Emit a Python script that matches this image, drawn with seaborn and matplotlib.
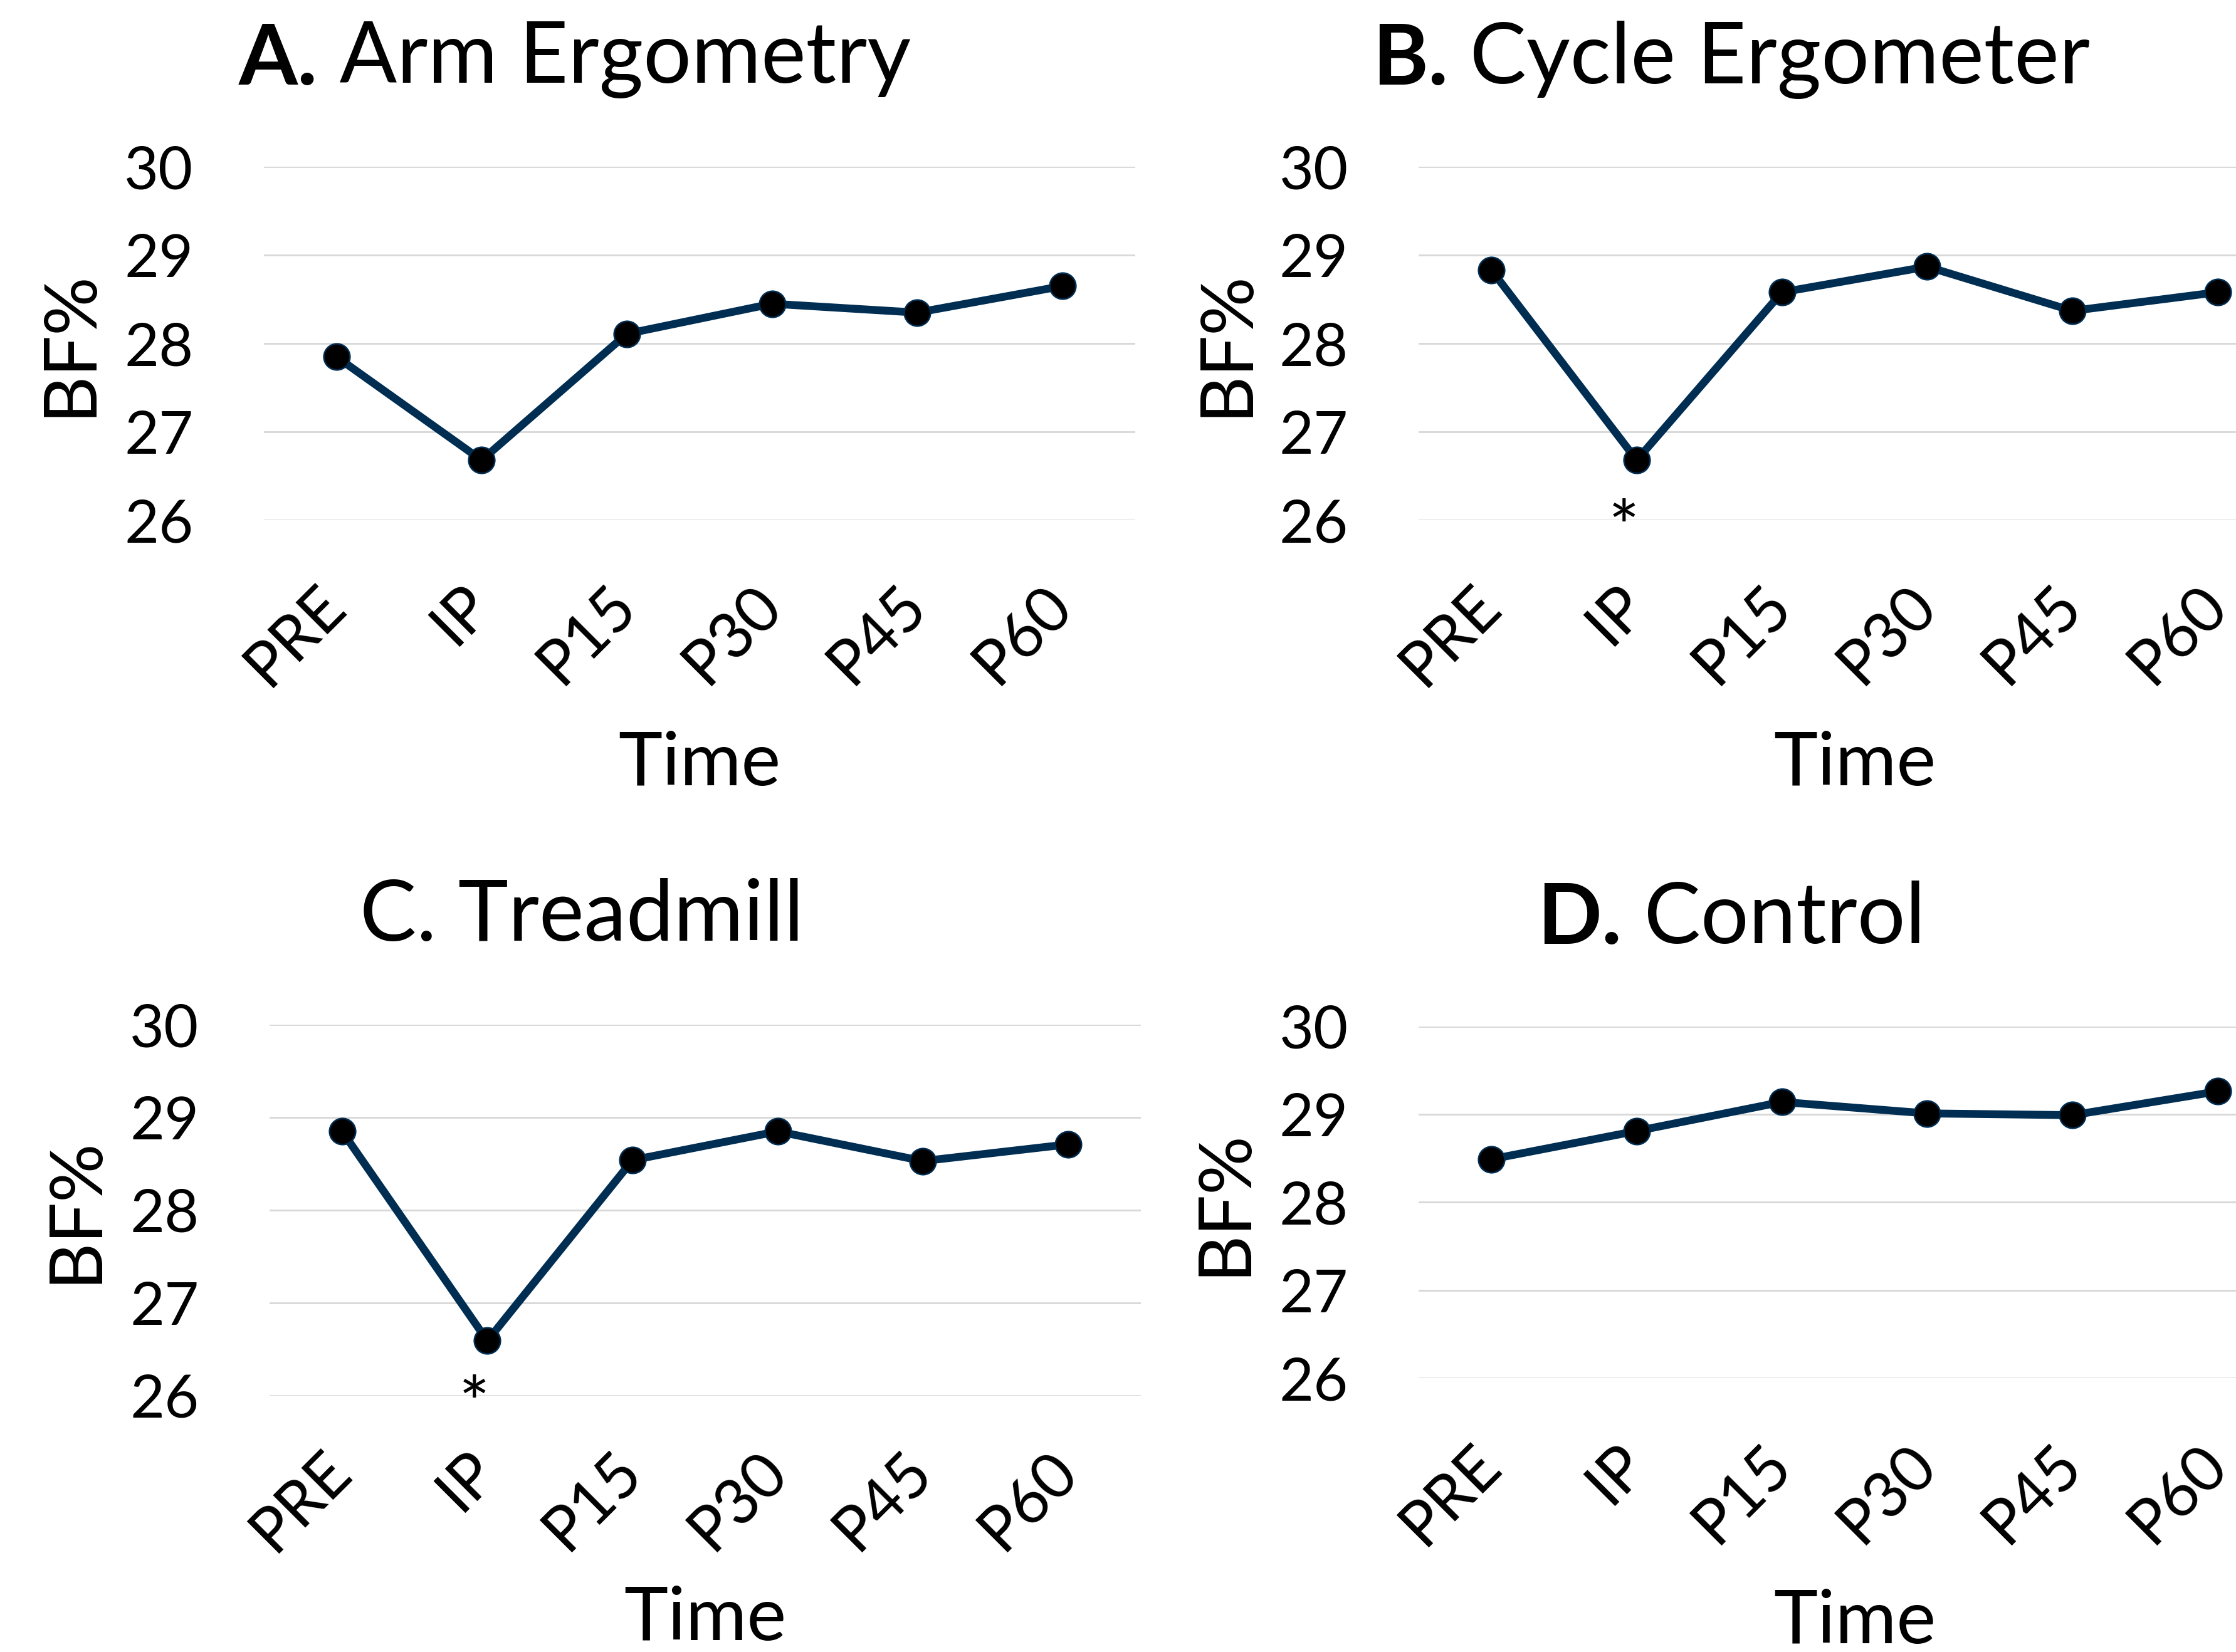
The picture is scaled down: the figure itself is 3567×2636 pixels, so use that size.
import pandas as pd
import matplotlib
matplotlib.use("Agg")
import matplotlib.pyplot as plt
import matplotlib.transforms as mtransforms
import seaborn as sns

# data
time_points = ["PRE", "IP", "P15", "P30", "P45", "P60"]
arm_ergometry = [27.85, 26.68, 28.11, 28.45, 28.35, 28.65]
cycle_ergometer = [28.83, 26.68, 28.58, 28.87, 28.37, 28.58]
treadmill = [28.85, 26.59, 28.54, 28.85, 28.53, 28.71]
control = [28.49, 28.81, 29.14, 29.01, 28.99, 29.26]
y_ticks = [26, 27, 28, 29, 30]

NAVY = "#002D52"
W, H = 3567, 2636
SW, SH = 1568, 1159  # coordinates measured on the shrunk reference

sns.set_theme(style="white")
plt.rcParams["font.family"] = ["Lato", "DejaVu Sans"]
plt.rcParams["text.color"] = "black"
plt.rcParams["xtick.color"] = "black"
plt.rcParams["ytick.color"] = "black"

fig = plt.figure(figsize=(W / 300, H / 300), dpi=300)


def fx(x):
    return x / SW


def fy(y):
    return 1 - y / SH


def title(cx, cy, bold, rest):
    # bold prefix followed by regular text, centred on cx as a whole
    r = fig.canvas.get_renderer()
    t1 = fig.text(0, fy(cy), bold, fontsize=32.5, fontweight="bold", va="center")
    t2 = fig.text(0, fy(cy), (" " if bold else "") + rest, fontsize=32.5, va="center")
    w1 = t1.get_window_extent(r).width / W
    w2 = t2.get_window_extent(r).width / W
    left = fx(cx) - (w1 + w2) / 2
    t1.set_x(left)
    t2.set_x(left + w1)


panels = [
    # values, axes (left, right, top=30, bottom=26), title centre, bold, rest, ylabel x, xlabel y, star, tick pad
    (arm_ergometry, (185, 796, 117, 365), (403, 42), "A.", "Arm Ergometry", 49, 536, False, 21),
    (cycle_ergometer, (995, 1606, 117, 365), (1214, 42), "B.", "Cycle Ergometer", 860, 536, True, 21),
    (treadmill, (189, 800, 719, 979), (408, 643), "", "C. Treadmill", 53, 1136, True, 17.5),
    (control, (995, 1606, 720, 967), (1214, 645), "D.", "Control", 859, 1138, False, 21.5),
]

shift = mtransforms.ScaledTranslation(-8 / 72, 0, fig.dpi_scale_trans)

for vals, (l, r, t, b), (tx, ty), bold, rest, ylx, xly, star, pad in panels:
    ax = fig.add_axes([fx(l), fy(b), fx(r) - fx(l), fy(t) - fy(b)])
    df = pd.DataFrame({"Time": time_points, "BF%": vals})
    sns.lineplot(data=df, x="Time", y="BF%", ax=ax, color=NAVY, lw=3.0,
                 marker="o", markersize=10, markerfacecolor="black",
                 markeredgecolor=NAVY, markeredgewidth=0.6, sort=False)
    ax.set_xlim(-0.5, 5.5)
    ax.set_ylim(26, 30)
    ax.set_yticks(y_ticks)
    ax.set_xticks(range(len(time_points)))
    ax.set_xticklabels(time_points, rotation=45, ha="right", va="top",
                       rotation_mode="anchor")
    ax.tick_params(axis="y", length=0, pad=27, labelsize=22.8)
    ax.tick_params(axis="x", length=0, pad=pad, labelsize=24)
    for lab in ax.get_xticklabels():
        lab.set_transform(lab.get_transform() + shift)
    ax.yaxis.grid(True, color="#D9D9D9", lw=0.7)
    ax.xaxis.grid(False)
    ax.set_axisbelow(True)
    for s in ax.spines.values():
        s.set_visible(False)
    for line in ax.get_lines():
        line.set_clip_on(False)
    ax.set_xlabel("")
    ax.set_ylabel("")
    if star:
        ax.text(0.91, 25.86, "*", ha="center", va="center", fontsize=28,
                clip_on=False)

    title(tx, ty, bold, rest)
    fig.text(fx(ylx), fy((t + b) / 2), "BF%", rotation=90, fontsize=28,
             ha="center", va="center")
    fig.text(fx((l + r) / 2), fy(xly), "Time", fontsize=28.5, ha="center", va="center")

fig.savefig("out.png", dpi=300)
